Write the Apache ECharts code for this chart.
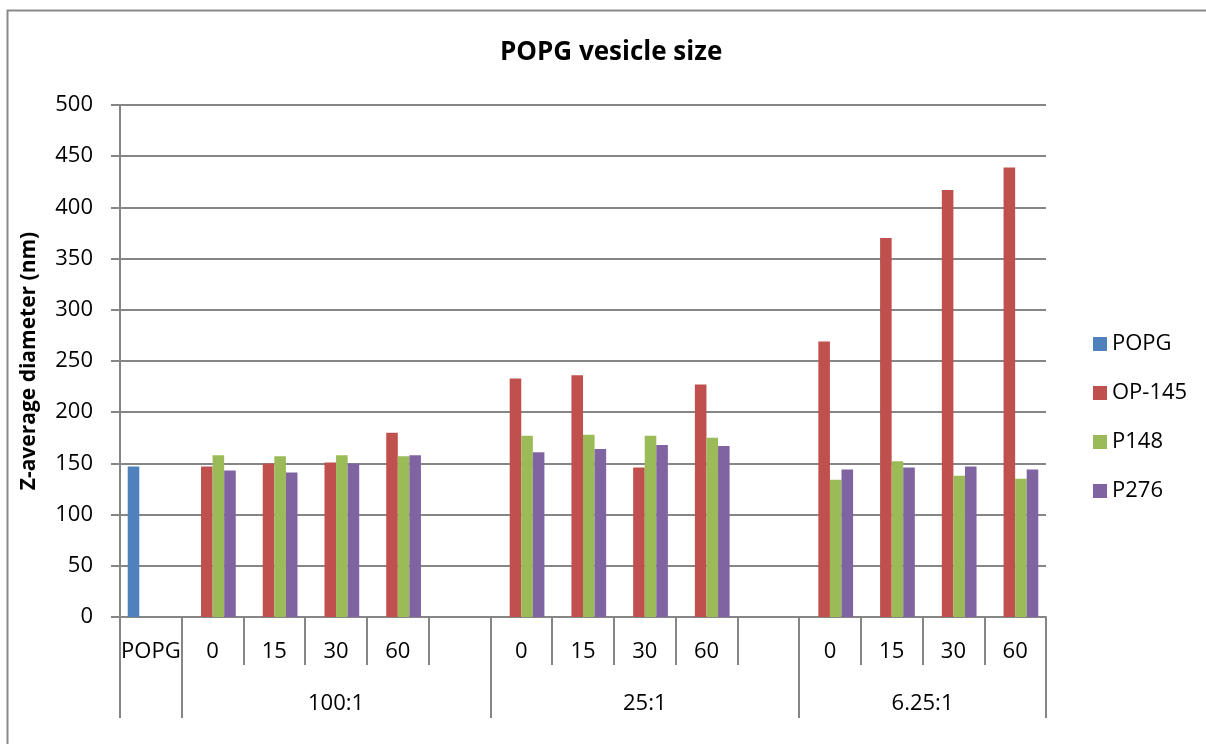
<!DOCTYPE html>
<html lang="en">

<head>
    <meta charset="UTF-8">
    <title>POPG vesicle size</title>
    <style>
        body { margin: 0; background: #fff; }
    </style>
</head>

<body>
    <div id="main" style="width:1206px;height:744px;"></div>
    <script src="https://cdn.jsdelivr.net/npm/echarts@6/dist/echarts.min.js"></script>
    <script>
        // x categories (time points), with empty slots between ratio groups
        var categories = ['POPG', '0', '15', '30', '60', '', '0', '15', '30', '60', '', '0', '15', '30', '60'];
        // ratio groups: name + [first category index, end index]
        var groupNames = ['100:1', '25:1', '6.25:1'];
        var groupSpans = [[1, 6], [6, 11], [11, 15]];

        var seriesNames = ['POPG', 'OP-145', 'P148', 'P276'];
        var popg = [147, null, null, null, null, null, null, null, null, null, null, null, null, null, null];
        var op145 = [null, 147, 150, 151, 180, null, 233, 236, 146, 227, null, 269, 370, 417, 439];
        var p148 = [null, 158, 157, 158, 157, null, 177, 178, 177, 175, null, 134, 152, 138, 135];
        var p276 = [null, 143, 141, 150, 158, null, 161, 164, 168, 167, null, 144, 146, 147, 144];

        var colors = ['#4F81BD', '#C0504D', '#9BBB59', '#8064A2'];
        var lineColor = '#868686';
        var font = '"Open Sans", "Noto Sans", sans-serif';

        var myChart = echarts.init(document.getElementById('main'));

        // ticks at group borders, labels centred under each group
        var groupTicks = [0];
        var groupLabelPos = [];
        var labelMap = {};
        for (var i = 0; i < groupSpans.length; i++) {
            groupTicks.push(groupSpans[i][0]);
            var mid = (groupSpans[i][0] + groupSpans[i][1]) / 2;
            groupLabelPos.push(mid);
            labelMap[mid] = groupNames[i];
        }
        groupTicks.push(categories.length);

        var allData = [popg, op145, p148, p276];
        var series = [];
        for (var s = 0; s < seriesNames.length; s++) {
            series.push({
                name: seriesNames[s],
                type: 'bar',
                xAxisIndex: 0,
                yAxisIndex: 0,
                barGap: 0,
                barCategoryGap: '25%',
                itemStyle: { color: colors[s] },
                data: allData[s]
            });
        }

        var option = {
            color: colors,
            textStyle: { fontFamily: font },
            title: {
                text: 'POPG vesicle size',
                left: 500,
                top: 40,
                padding: 0,
                textStyle: { fontFamily: font, fontSize: 26, fontWeight: 'bold', color: '#000' }
            },
            legend: {
                orient: 'vertical',
                left: 1088,
                top: 328,
                itemWidth: 14,
                itemHeight: 14,
                itemGap: 27,
                icon: 'rect',
                textStyle: { fontFamily: font, fontSize: 22, color: '#000' },
                data: seriesNames
            },
            grid: {
                left: 120,
                right: 160,
                top: 105,
                bottom: 127
            },
            xAxis: [
                {
                    type: 'category',
                    data: categories,
                    axisLine: { lineStyle: { color: lineColor, width: 2 } },
                    axisTick: { show: true, interval: 0, length: 48, lineStyle: { color: lineColor, width: 2 } },
                    axisLabel: { interval: 0, margin: 24, fontSize: 22, color: '#000', fontFamily: font }
                },
                {
                    type: 'value',
                    min: 0,
                    max: categories.length,
                    position: 'bottom',
                    offset: 48,
                    splitLine: { show: false },
                    axisLine: { show: false },
                    axisTick: { show: true, length: 53, customValues: groupTicks, lineStyle: { color: lineColor, width: 2 } },
                    axisLabel: {
                        customValues: groupLabelPos,
                        margin: 28,
                        fontSize: 22,
                        color: '#000',
                        fontFamily: font,
                        formatter: function (v) { return labelMap[v] || ''; }
                    }
                }
            ],
            yAxis: {
                type: 'value',
                min: 0,
                max: 500,
                interval: 50,
                name: 'Z-average diameter (nm)',
                nameLocation: 'middle',
                nameGap: 80,
                nameTextStyle: { fontFamily: font, fontSize: 21, fontWeight: 'bold', color: '#000' },
                axisLine: { show: true, lineStyle: { color: lineColor, width: 2 } },
                axisTick: { show: true, length: 9, lineStyle: { color: lineColor, width: 2 } },
                axisLabel: { margin: 27, fontSize: 22, color: '#000', fontFamily: font },
                splitLine: { lineStyle: { color: lineColor, width: 2 } }
            },
            graphic: [{
                type: 'rect',
                silent: true,
                shape: { x: 7.5, y: 10.5, width: 1400, height: 900 },
                style: { fill: 'none', stroke: '#8a8a8a', lineWidth: 2 }
            }],
            series: series
        };

        myChart.setOption(option);
    </script>
</body>

</html>
